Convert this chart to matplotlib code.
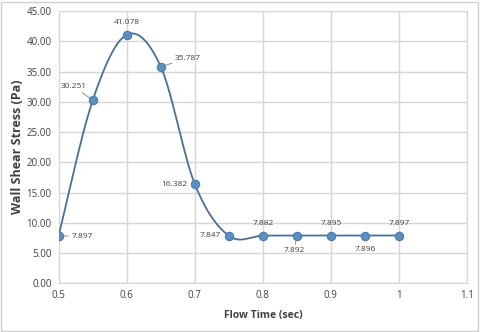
import numpy as np
import matplotlib
matplotlib.use('Agg')
import matplotlib.pyplot as plt
from matplotlib.patches import Rectangle

# data
flow_time = [0.5, 0.55, 0.6, 0.65, 0.7, 0.75, 0.8, 0.85, 0.9, 0.95, 1.0]
shear = [7.897, 30.251, 41.078, 35.787, 16.382, 7.847, 7.882, 7.892, 7.895, 7.896, 7.897]
x_ticks = [0.5, 0.6, 0.7, 0.8, 0.9, 1.0, 1.1]
x_tick_labels = ['0.5', '0.6', '0.7', '0.8', '0.9', '1', '1.1']
y_ticks = [0, 5, 10, 15, 20, 25, 30, 35, 40, 45]


def smooth_curve(xs, ys, n=30):
    # Excel-like smoothed line: cubic bezier with catmull-rom control points
    xs = np.asarray(xs, float)
    ys = np.asarray(ys, float)
    px = np.concatenate([[xs[0]], xs, [xs[-1]]])
    py = np.concatenate([[ys[0]], ys, [ys[-1]]])
    out_x, out_y = [], []
    t = np.linspace(0, 1, n)
    for i in range(1, len(px) - 2):
        p0 = np.array([px[i], py[i]])
        p3 = np.array([px[i + 1], py[i + 1]])
        c1 = p0 + (p3 - np.array([px[i - 1], py[i - 1]])) / 6.0
        c2 = p3 - (np.array([px[i + 2], py[i + 2]]) - p0) / 6.0
        b = (np.outer((1 - t) ** 3, p0) + np.outer(3 * (1 - t) ** 2 * t, c1)
             + np.outer(3 * (1 - t) * t ** 2, c2) + np.outer(t ** 3, p3))
        out_x.extend(b[:, 0])
        out_y.extend(b[:, 1])
    return out_x, out_y


plt.rcParams['font.family'] = ['Open Sans', 'DejaVu Sans']

fig = plt.figure(figsize=(4.8, 3.32), dpi=100)
ax = fig.add_axes([0.1223, 0.1467, 0.8507, 0.8202])

sx, sy = smooth_curve(flow_time, shear)
ax.plot(sx, sy, color='#4a7096', lw=1.3, zorder=3)
ax.plot(flow_time, shear, 'o', ms=6, color='#5b8fc4', mec='#4a7aa8', mew=0.8, zorder=4)

ax.set_xlim(0.5, 1.1)
ax.set_ylim(0, 45)
ax.set_xticks(x_ticks)
ax.set_xticklabels(x_tick_labels)
ax.set_yticks(y_ticks)
ax.set_yticklabels(['%.2f' % v for v in y_ticks])
ax.grid(True, color='#d6d6d6', lw=1)
ax.set_axisbelow(True)
for s in ax.spines.values():
    s.set_color('#d6d6d6')
ax.tick_params(length=0, labelsize=7, colors='#404040', pad=5)

ax.set_xlabel('Flow Time (sec)', fontsize=7.5, fontweight='bold', color='#404040', labelpad=6)
ax.set_ylabel('Wall Shear Stress (Pa)', fontsize=9, fontweight='bold', color='#404040', labelpad=2)

# data labels: offsets in points, and whether a leader line is drawn
offsets = [(9, -1, 'left', True), (-14, 10, 'center', True), (0, 9, 'center', False),
           (10, 6, 'left', True), (-5, 0, 'right', False), (-6, 0, 'right', False),
           (0, 9, 'center', False), (-2, -11, 'center', True), (0, 9, 'center', False),
           (0, -10, 'center', False), (0, 9, 'center', False)]
for xv, yv, (dx, dy, ha, lead) in zip(flow_time, shear, offsets):
    props = dict(arrowstyle='-', color='#7f7f7f', lw=0.6, shrinkA=0, shrinkB=2.5) if lead else None
    ax.annotate('%.3f' % yv, (xv, yv), xytext=(dx, dy), textcoords='offset points',
                ha=ha, va='center', fontsize=6, color='#404040', arrowprops=props, zorder=5)

fig.patches.append(Rectangle((0.002, 0.003), 0.994, 0.992, transform=fig.transFigure,
                             fill=False, ec='#d0d0d0', lw=1))

fig.savefig('out.png', dpi=100)
